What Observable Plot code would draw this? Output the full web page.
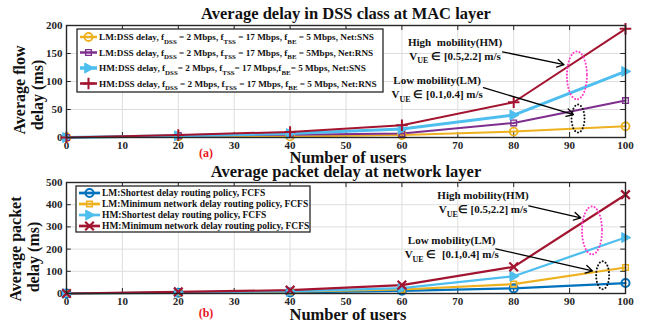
<!DOCTYPE html>
<html>
<head>
<meta charset="utf-8">
<script src="https://cdn.jsdelivr.net/npm/d3@7"></script>
<script src="https://cdn.jsdelivr.net/npm/@observablehq/plot@0.6"></script>
<style>
  body { margin: 0; background: #fff; }
  #chart { width: 646px; }
  #chart svg { display: block; overflow: visible; }
</style>
</head>
<body>
<div id="chart"></div>
<script>
// Number of users on the x axis
const users = [0, 20, 40, 60, 80, 100];
const xTicks = [0, 10, 20, 30, 40, 50, 60, 70, 80, 90, 100];

// (a) Average DSS flow delay at the MAC layer (ms)
const macLmSns = [0, 2, 2, 4.5, 10.5, 20];
const macLmRns = [0, 3, 5, 7, 26, 66];
const macHmSns = [0, 3, 7, 15, 40, 118];
const macHmRns = [0, 4.5, 10, 22, 63, 194];
const macYTicks = [0, 50, 100, 150, 200];

// (b) Average packet delay at the network layer (ms)
const netLmShortest = [0, 3, 5, 12, 23, 47];
const netLmMinimum = [0, 4, 8, 18, 42, 117];
const netHmShortest = [0, 5, 10, 24, 78, 252];
const netHmMinimum = [0, 7, 15, 38, 120, 445];
const netYTicks = [0, 100, 200, 300, 400, 500];

// Legend labels; _{...} marks a subscript
const macLabels = [
  "LM:DSS delay, f_{DSS} = 2 Mbps, f_{TSS} = 17 Mbps, f_{BE} = 5 Mbps, Net:SNS",
  "LM:DSS delay, f_{DSS} = 2 Mbps, f_{TSS} = 17 Mbps, f_{BE} = 5Mbps, Net:RNS",
  "HM:DSS delay, f_{DSS}= 2 Mbps, f_{TSS}= 17 Mbps,f_{BE}= 5 Mbps, Net:SNS",
  "HM:DSS delay, f_{DSS} = 2 Mbps, f_{TSS} = 17 Mbps, f_{BE} = 5 Mbps, Net:RNS"
];
const netLabels = [
  "LM:Shortest delay routing policy, FCFS",
  "LM:Minimum network delay routing policy, FCFS",
  "HM:Shortest delay routing policy, FCFS",
  "HM:Minimum network delay routing policy, FCFS"
];

// Mobility annotations (data units)
const macNotes = {
  hm: {x: 69.6, y: 170, text: ["High  mobility(HM)", "V_{UE} ∈ [0.5,2.2] m/s"]},
  lm: {x: 66.4, y: 101, text: ["Low mobility(LM)", "V_{UE} ∈ [0.1,0.4] m/s"]},
  arrows: [
    {x1: 78, y1: 153, x2: 89, y2: 130},
    {x1: 74.6, y1: 89, x2: 90.7, y2: 41}
  ],
  rings: [
    {x: 91.4, y: 110, color: "pink"},
    {x: 91.6, y: 33, color: "black"}
  ]
};
const netNotes = {
  hm: {x: 74.6, y: 440, text: ["High mobility(HM)", "V_{UE}∈ [0.5,2.2] m/s"]},
  lm: {x: 69, y: 237, text: ["Low mobility(LM)", "V_{UE} ∈  [0.1,0.4] m/s"]},
  arrows: [
    {x1: 82.7, y1: 395, x2: 92, y2: 341},
    {x1: 76.8, y1: 201, x2: 94.1, y2: 102}
  ],
  rings: [
    {x: 94.1, y: 282, color: "pink"},
    {x: 96, y: 80, color: "black"}
  ]
};

const FONT = "'Liberation Serif', 'Times New Roman', serif";
const colors = {
  blue: "#0072BD", yellow: "#EDB120", purple: "#7E2F8E",
  cyan: "#4DBEEE", red: "#A2142F"
};

// right-pointing triangle marker
const triangleRight = {
  draw(ctx, size) {
    const r = Math.sqrt(size / Math.PI);
    ctx.moveTo(r * 1.05, 0);
    ctx.lineTo(-r * 0.75, -r);
    ctx.lineTo(-r * 0.75, r);
    ctx.closePath();
  }
};

function appendRich(textSel, str, subSize) {
  const parts = str.split(/(_\{[^}]*\})/);
  let shifted = false;
  for (const p of parts) {
    if (!p) continue;
    if (p.startsWith("_{")) {
      textSel.append("tspan").attr("dy", 3.5).attr("font-size", subSize).text(p.slice(2, -1));
      shifted = true;
    } else {
      const t = textSel.append("tspan").text(p);
      if (shifted) { t.attr("dy", -3.5); shifted = false; }
    }
  }
}

function panel(cfg) {
  const {series, yMax, yTicks, marginTop, marginBottom, notes} = cfg;
  const tx = yMax * 0.045, ty = 100 * 0.0085;
  const marks = [
    Plot.ruleX(xTicks, {stroke: "#dedede", strokeWidth: 1}),
    Plot.ruleY(yTicks, {stroke: "#dedede", strokeWidth: 1}),
    // inward ticks on all four sides
    Plot.ruleX(xTicks, {x: d => d, y1: 0, y2: tx, stroke: "#262626"}),
    Plot.ruleX(xTicks, {x: d => d, y1: yMax, y2: yMax - tx, stroke: "#262626"}),
    Plot.ruleY(yTicks, {y: d => d, x1: 0, x2: ty, stroke: "#262626"}),
    Plot.ruleY(yTicks, {y: d => d, x1: 100, x2: 100 - ty, stroke: "#262626"})
  ];
  for (const s of series) {
    marks.push(Plot.line(users, {x: d => d, y: (d, i) => s.values[i], stroke: s.color, strokeWidth: s.lw}));
  }
  for (const s of series) {
    marks.push(Plot.dot(users, {x: d => d, y: (d, i) => s.values[i], symbol: s.symbol, r: s.r,
      stroke: s.color, fill: s.fill, strokeWidth: s.mw}));
  }
  marks.push(Plot.arrow(notes.arrows, {x1: "x1", y1: "y1", x2: "x2", y2: "y2",
    stroke: "#000", strokeWidth: 1.3, headLength: 9, bend: false}));
  marks.push(Plot.frame({stroke: "#262626", strokeWidth: 1.4}));

  const svg = Plot.plot({
    width: 646, height: 162,
    marginLeft: 66, marginRight: 21, marginTop, marginBottom,
    style: {fontFamily: FONT, fontWeight: "bold", fontSize: "11px", color: "#262626", background: "transparent", overflow: "visible"},
    x: {domain: [0, 100], ticks: xTicks, tickSize: 0, tickPadding: 4, label: null},
    y: {domain: [0, yMax], ticks: yTicks, tickSize: 0, tickPadding: 4, label: null},
    marks
  });

  const xs = svg.scale("x"), ys = svg.scale("y");
  const root = d3.select(svg);

  // dotted rings around the curves
  for (const r of notes.rings) {
    root.append("ellipse")
      .attr("cx", xs.apply(r.x)).attr("cy", ys.apply(r.y))
      .attr("rx", r.color === "pink" ? 10 : 6.5)
      .attr("ry", r.color === "pink" ? 24 : 14)
      .attr("fill", "none")
      .attr("stroke", r.color === "pink" ? "#ff38c8" : "#111")
      .attr("stroke-width", 2).attr("stroke-dasharray", "0.1,3.2").attr("stroke-linecap", "round");
  }
  // mobility labels
  for (const n of [notes.hm, notes.lm]) {
    n.text.forEach((line, i) => {
      const t = root.append("text")
        .attr("x", xs.apply(n.x)).attr("y", ys.apply(n.y) + i * 14)
        .attr("text-anchor", "middle").attr("dy", "0.35em")
        .attr("font-family", FONT).attr("font-weight", "bold").attr("font-size", 11).attr("fill", "#111");
      appendRich(t, line, 8);
    });
  }

  // legend box
  const L = cfg.legend;
  const g = root.append("g");
  g.append("rect").attr("x", L.x).attr("y", L.y).attr("width", L.w).attr("height", L.h)
    .attr("fill", "#fff").attr("stroke", "#262626").attr("stroke-width", 1.3);
  series.forEach((s, i) => {
    const cy = L.y + L.first + i * L.gap;
    g.append("line").attr("x1", L.x + 3).attr("x2", L.x + L.lineW).attr("y1", cy).attr("y2", cy)
      .attr("stroke", s.color).attr("stroke-width", s.lw + 0.5);
    g.append("path").attr("transform", `translate(${L.x + 3 + (L.lineW - 3) / 2},${cy})`)
      .attr("d", d3.symbol(s.symbol, s.r * s.r * Math.PI)())
      .attr("fill", s.fill).attr("stroke", s.color).attr("stroke-width", s.mw);
    const t = g.append("text").attr("x", L.x + L.lineW + 2).attr("y", cy).attr("dy", "0.33em")
      .attr("text-anchor", "start")
      .attr("font-family", FONT).attr("font-weight", "bold").attr("font-size", L.font).attr("fill", "#111");
    appendRich(t, s.label, L.font * 0.75);
  });

  // titles and axis labels
  const txt = (x, y, str, size, opts = {}) => root.append("text")
    .attr("x", x).attr("y", y).attr("text-anchor", "middle").attr("dy", "0.35em")
    .attr("font-family", FONT).attr("font-weight", "bold").attr("font-size", size)
    .attr("fill", opts.fill || "#111")
    .attr("transform", opts.rotate ? `rotate(-90,${x},${y})` : null)
    .text(str);
  const T = cfg.text;
  txt(346, T.titleY, cfg.title, 16.5);
  txt(348, T.xLabelY, "Number of users", 16.5);
  txt(206, T.tagY, cfg.tag, 12, {fill: "#e8161b"});
  txt(T.yl1X, T.yl1Y, cfg.yLabel[0], 16, {rotate: true});
  txt(T.yl2X, T.yl2Y, cfg.yLabel[1], 16, {rotate: true});
  return svg;
}

const chart = document.getElementById("chart");

chart.append(panel({
  title: "Average delay in DSS class at MAC layer",
  yLabel: ["Average flow", "delay (ms)"],
  tag: "(a)",
  yMax: 200, yTicks: macYTicks, marginTop: 25, marginBottom: 25,
  text: {titleY: 13, xLabelY: 157, tagY: 153, yl1X: 19, yl1Y: 90, yl2X: 37, yl2Y: 95},
  legend: {x: 77, y: 29, w: 306, h: 63, first: 8, gap: 15.5, lineW: 20, font: 9.2},
  notes: macNotes,
  series: [
    {label: macLabels[0], values: macLmSns, color: colors.yellow, symbol: d3.symbolCircle, r: 4, fill: "none", lw: 2, mw: 1.8},
    {label: macLabels[1], values: macLmRns, color: colors.purple, symbol: d3.symbolSquare, r: 3.2, fill: "none", lw: 2, mw: 1.4},
    {label: macLabels[2], values: macHmSns, color: colors.cyan, symbol: triangleRight, r: 5, fill: colors.cyan, lw: 3, mw: 1},
    {label: macLabels[3], values: macHmRns, color: colors.red, symbol: d3.symbolPlus, r: 3.8, fill: "none", lw: 2, mw: 2}
  ]
}));

chart.append(panel({
  title: "Average packet delay at network layer",
  yLabel: ["Average packet", "delay (ms)"],
  tag: "(b)",
  yMax: 500, yTicks: netYTicks, marginTop: 20, marginBottom: 31,
  text: {titleY: 9, xLabelY: 152, tagY: 151, yl1X: 15, yl1Y: 87, yl2X: 33, yl2Y: 95},
  legend: {x: 76, y: 24, w: 234, h: 46, first: 7, gap: 11, lineW: 24, font: 9.5},
  notes: netNotes,
  series: [
    {label: netLabels[0], values: netLmShortest, color: colors.blue, symbol: d3.symbolCircle, r: 4, fill: "none", lw: 2.2, mw: 2},
    {label: netLabels[1], values: netLmMinimum, color: colors.yellow, symbol: d3.symbolSquare, r: 3.2, fill: "none", lw: 2.2, mw: 1.5},
    {label: netLabels[2], values: netHmShortest, color: colors.cyan, symbol: triangleRight, r: 5, fill: colors.cyan, lw: 2.2, mw: 1},
    {label: netLabels[3], values: netHmMinimum, color: colors.red, symbol: d3.symbolTimes, r: 4, fill: "none", lw: 2.2, mw: 2.2}
  ]
}));
</script>
</body>
</html>
